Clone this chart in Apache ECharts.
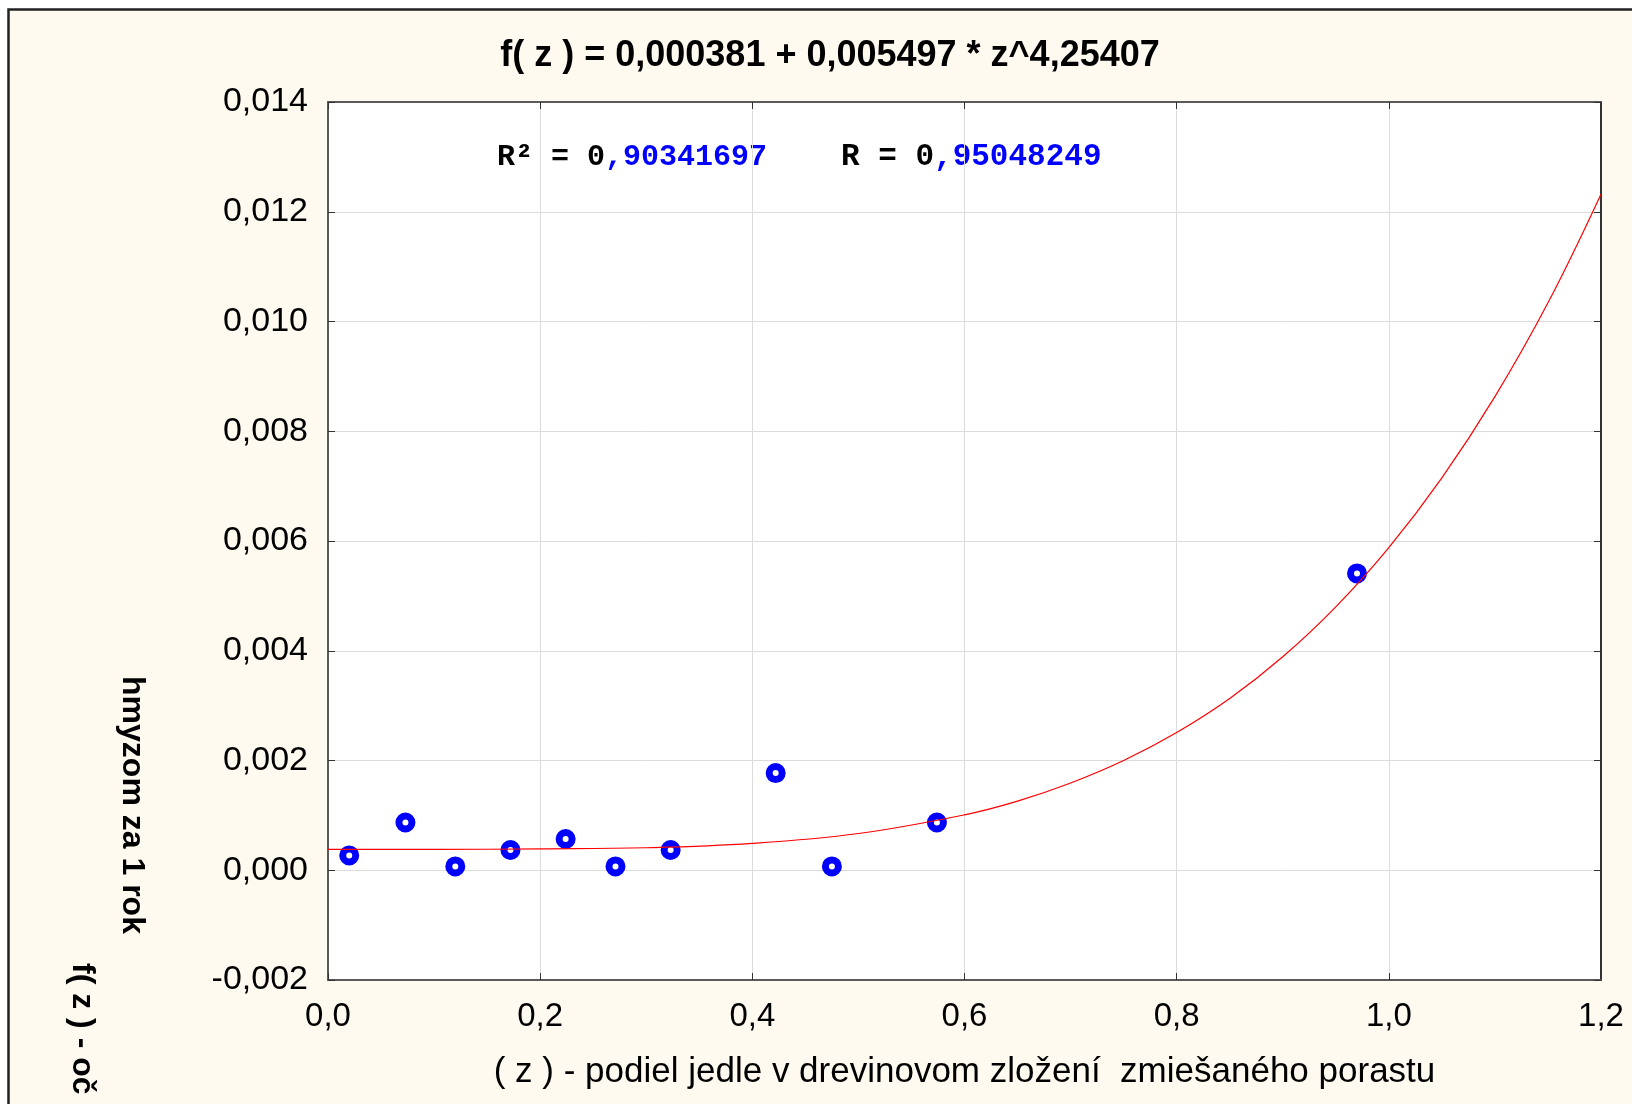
<!DOCTYPE html>
<html>
<head>
<meta charset="utf-8">
<script src="https://cdn.jsdelivr.net/npm/echarts@6/dist/echarts.min.js"></script>
<style>html,body{margin:0;padding:0;background:#fff}#c{width:1632px;height:1104px}</style>
</head>
<body>
<div id="c"></div>
<script>
// measured points
const pointsZ = [0.020, 0.073, 0.120, 0.172, 0.224, 0.271, 0.323, 0.422, 0.475, 0.574, 0.970];
const pointsF = [0.00027, 0.00087, 0.00007, 0.00037, 0.00057, 0.00007, 0.00037, 0.00177, 0.00007, 0.00087, 0.00541];
// fitted curve
const curveZ = [0, 0.1, 0.2, 0.3, 0.4, 0.5, 0.6, 0.65, 0.7, 0.75, 0.8, 0.85, 0.9, 0.95, 1.0, 1.05, 1.1, 1.15, 1.2];
const curveF = [0.00038, 0.00038, 0.00039, 0.00041, 0.00049, 0.00067, 0.00101, 0.00126, 0.00159, 0.00200, 0.00251, 0.00313, 0.00389, 0.00480, 0.00588, 0.00715, 0.00863, 0.01034, 0.01232];
const xTickLabels = ['0,0', '0,2', '0,4', '0,6', '0,8', '1,0', '1,2'];
const yTickLabels = ['-0,002', '0,000', '0,002', '0,004', '0,006', '0,008', '0,010', '0,012', '0,014'];
const titleText = 'f( z ) = 0,000381 + 0,005497 * z^4,25407';
const xTitle = '( z ) - podiel jedle v drevinovom zložení  zmiešaného porastu';
const yTitle1 = 'hmyzom za 1 rok';
const yTitle2 = 'f( z ) - oč';
const r2Black = 'R² = 0', r2Blue = ',90341697', rBlack = 'R = 0', rBlue = ',95048249';

const FONT = '"Liberation Sans", Arial, sans-serif';
const MONO = '"Liberation Mono", "Courier New", monospace';
const chart = echarts.init(document.getElementById('c'), null, {renderer: 'canvas'});

const xMin = 0, xMax = 1.2, xInt = 0.2;
const yMin = -0.002, yMax = 0.014, yInt = 0.002;
function xLab(v) { return xTickLabels[Math.round((v - xMin) / xInt)] || ''; }
function yLab(v) { return yTickLabels[Math.round((v - yMin) / yInt)] || ''; }

const axisLineStyle = {color: '#5a5a5a', width: 2};
const tickStyle = {show: true, inside: true, length: 7, lineStyle: {color: '#333', width: 1}};

chart.setOption({
  backgroundColor: '#fffaf0',
  animation: false,
  grid: {left: 328, top: 102, right: 31, bottom: 124, show: true, backgroundColor: '#ffffff', borderWidth: 0},
  xAxis: [{
    type: 'value', min: xMin, max: xMax, interval: xInt,
    axisLine: {show: true, onZero: false, lineStyle: axisLineStyle},
    axisTick: tickStyle,
    splitLine: {show: true, lineStyle: {color: '#dcdcdc', width: 1}},
    axisLabel: {formatter: xLab, color: '#000', fontFamily: FONT, fontSize: 33, margin: 20},
    name: xTitle, nameLocation: 'middle', nameGap: 75,
    nameTextStyle: {color: '#000', fontFamily: FONT, fontSize: 35}
  }, {
    type: 'value', position: 'top', min: xMin, max: xMax, interval: xInt,
    axisLine: {show: true, onZero: false, lineStyle: axisLineStyle},
    axisTick: tickStyle, axisLabel: {show: false}, splitLine: {show: false}
  }],
  yAxis: [{
    type: 'value', min: yMin, max: yMax, interval: yInt,
    axisLine: {show: true, onZero: false, lineStyle: axisLineStyle},
    axisTick: tickStyle,
    splitLine: {show: true, lineStyle: {color: '#dcdcdc', width: 1}},
    axisLabel: {formatter: yLab, color: '#000', fontFamily: FONT, fontSize: 34, margin: 20}
  }, {
    type: 'value', position: 'right', min: yMin, max: yMax, interval: yInt,
    axisLine: {show: true, onZero: false, lineStyle: {color: '#333', width: 2}},
    axisTick: tickStyle, axisLabel: {show: false}, splitLine: {show: false}
  }],
  series: [{
    type: 'scatter', xAxisIndex: 0, yAxisIndex: 0, z: 2,
    data: pointsZ.map((z, i) => [z, pointsF[i]]),
    symbol: 'circle', symbolSize: 13,
    itemStyle: {color: '#ffffff', borderColor: '#0000ff', borderWidth: 7, opacity: 1}
  }, {
    type: 'line', xAxisIndex: 0, yAxisIndex: 0, z: 3,
    data: curveZ.map((z, i) => [z, curveF[i]]),
    smooth: 0.4, showSymbol: false, symbol: 'none',
    lineStyle: {color: '#ff0000', width: 1.2}
  }],
  graphic: [
    {type: 'rect', silent: true, shape: {x: 0, y: 0, width: 1632, height: 8}, style: {fill: '#ffffff'}},
    {type: 'rect', silent: true, shape: {x: 0, y: 0, width: 7, height: 1104}, style: {fill: '#ffffff'}},
    {type: 'rect', silent: true, shape: {x: 8.5, y: 9.5, width: 1700, height: 1200}, style: {fill: null, stroke: '#222', lineWidth: 2.5}},
    {type: 'text', silent: true, x: 830, y: 56,
      style: {text: titleText, font: 'bold 36px ' + FONT, fill: '#000', align: 'center', verticalAlign: 'middle'}},
    {type: 'text', silent: true, x: 497, y: 157,
      style: {
        text: '{k|' + r2Black + '}{b|' + r2Blue + '}{g|}{k2|' + rBlack + '}{b2|' + rBlue + '}',
        align: 'left', verticalAlign: 'middle',
        rich: {
          k: {font: 'bold 30px ' + MONO, fill: '#000'},
          b: {font: 'bold 30px ' + MONO, fill: '#0000ff'},
          g: {width: 74, font: 'bold 30px ' + MONO},
          k2: {font: 'bold 31px ' + MONO, fill: '#000'},
          b2: {font: 'bold 31px ' + MONO, fill: '#0000ff'}
        }
      }},
    {type: 'text', silent: true, x: 132, y: 805, rotation: -Math.PI / 2,
      style: {text: yTitle1, font: 'bold 32px ' + FONT, fill: '#000', align: 'center', verticalAlign: 'middle'}},
    {type: 'text', silent: true, x: 82, y: 963, rotation: -Math.PI / 2,
      style: {text: yTitle2, font: 'bold 32px ' + FONT, fill: '#000', align: 'left', verticalAlign: 'middle'}}
  ]
});
</script>
</body>
</html>
